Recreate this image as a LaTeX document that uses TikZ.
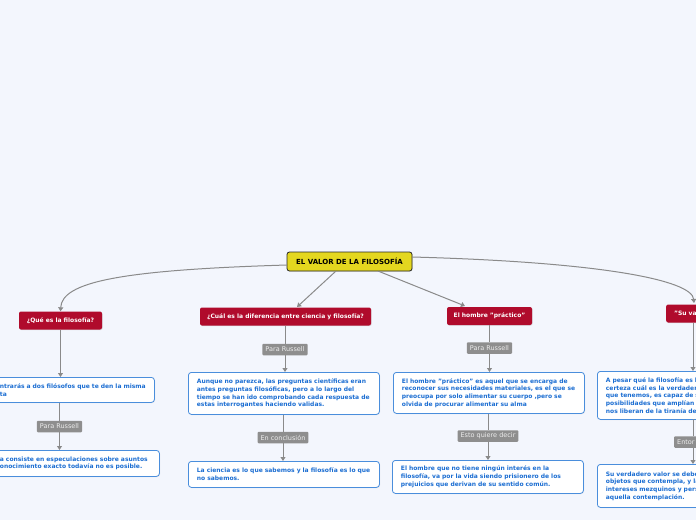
\documentclass[tikz,border=0pt]{standalone}
\usepackage{fontspec}
\setmainfont{DejaVu Sans}
\usetikzlibrary{arrows.meta,shadows}
\definecolor{bgc}{HTML}{F3F6FD}
\definecolor{redn}{HTML}{B00B2C}
\definecolor{yel}{HTML}{E4D71F}
\definecolor{bord}{HTML}{4A8EDC}
\definecolor{txtb}{HTML}{1C6ED2}
\definecolor{grayl}{HTML}{8E8E8E}
\definecolor{conn}{HTML}{8A8A8A}
\tikzset{
  mainbox/.style={draw=black!85, line width=0.8pt, fill=yel, rounded corners=2.5pt, font=\fontsize{7}{8}\selectfont\bfseries, minimum width=125pt, minimum height=19pt, inner sep=0pt, drop shadow={shadow xshift=0.6pt, shadow yshift=-0.6pt, opacity=0.25}},
  redbox/.style={fill=redn, text=white, rounded corners=2pt, font=\fontsize{6}{7}\selectfont\bfseries, minimum height=18pt, inner sep=0pt, drop shadow={shadow xshift=0.6pt, shadow yshift=-0.6pt, opacity=0.25}},
  txtbox/.style={draw=bord, line width=0.8pt, fill=white, text=txtb, rounded corners=3pt, font=\fontsize{6}{7.7}\selectfont\bfseries, align=left, inner xsep=8.5pt, inner ysep=0pt, drop shadow={shadow xshift=0.6pt, shadow yshift=-0.6pt, opacity=0.2}},
  glabel/.style={fill=grayl, text=white!93!black, rounded corners=1pt, font=\fontsize{6.5}{7}\selectfont, minimum height=11.5pt, inner xsep=3pt, inner ysep=0pt},
  conline/.style={draw=conn, line width=1pt},
  conarrow/.style={conline, -{Triangle[width=5pt,length=4pt]}}
}
\begin{document}
\begin{tikzpicture}[x=1pt,y=-1pt]
\useasboundingbox (0,0) rectangle (696,520);
\fill[bgc] (0,0) rectangle (696,520);
\clip (0,0) rectangle (696,520);

% main
\node[mainbox] (main) at (349.5,261.5) {EL VALOR DE LA FILOSOFÍA};

% red headers
\node[redbox, minimum width=83pt] (r1) at (60.5,320.5) {¿Qué es la filosofía?};
\node[redbox, minimum width=171pt] (r2) at (285.5,316.5) {¿Cuál es la diferencia entre ciencia y filosofía?};
\node[redbox, minimum width=85pt] (r3) at (489.5,316) {El hombre "práctico"};
\node[redbox, anchor=west, text width=50pt, align=left, inner xsep=8pt] (r4) at (666,313.5) {"Su va};

% connectors from main
\coordinate (m1) at (287,265);
\coordinate (m4) at (412,257);
\coordinate (m2) at (336,271);
\coordinate (m3) at (378,271);
\coordinate (t2) at (297,307);
\coordinate (t3) at (465,306);
\coordinate (x4) at (694,303);
\draw[conarrow] (m1) .. controls (120,270) and (62,282) .. (r1.north);
\draw[conarrow] (m2) -- (t2);
\draw[conarrow] (m3) -- (t3);
\draw[conarrow] (m4) .. controls (600,262) and (692,280) .. (x4);

% branch 1
\node[txtbox, text width=146pt, minimum height=25pt, anchor=north west] (b1a) at (-9,377) {ntrarás a dos filósofos que te den la misma\\ta};
\node[glabel] (l1) at (59.5,426.5) {Para Russell};
\node[txtbox, text width=151pt, minimum height=26pt, anchor=north west] (b1b) at (-9,450) {a consiste en especulaciones sobre asuntos\\onocimiento exacto todavía no es posible.};
\draw[conarrow] (r1.south) -- (b1a.north -| r1.south);
\draw[conline] (b1a.south -| l1.north) -- (l1.north);
\draw[conarrow] (l1.south) -- (b1b.north -| l1.south);

% branch 2
\node[glabel] (l2) at (285,349.5) {Para Russell};
\node[txtbox, text width=174pt, minimum height=42pt, anchor=north west] (b2a) at (188,372) {Aunque no parezca, las preguntas científicas eran\\antes preguntas filosóficas, pero a lo largo del\\tiempo se han ido comprobando cada respuesta de\\estas interrogantes haciendo validas.};
\node[glabel] (l3) at (283,437.5) {En conclusión};
\node[txtbox, text width=174pt, minimum height=26pt, anchor=north west] (b2b) at (188,461) {La ciencia es lo que sabemos y la filosofía es lo que\\no sabemos.};
\draw[conline] (r2.south -| l2.north) -- (l2.north);
\draw[conarrow] (l2.south) -- (b2a.north -| l2.south);
\draw[conline] (b2a.south -| l3.north) -- (l3.north);
\draw[conarrow] (l3.south) -- (b2b.north -| l3.south);

% branch 3
\node[glabel] (l4) at (489.5,348) {Para Russell};
\node[txtbox, text width=174pt, minimum height=41pt, anchor=north west] (b3a) at (393,372) {El hombre "práctico" es aquel que se encarga de\\reconocer sus necesidades materiales, es el que se\\preocupa por solo alimentar su cuerpo ,pero se\\olvida de procurar alimentar su alma};
\node[glabel] (l5) at (488,436) {Esto quiere decir};
\node[txtbox, text width=174pt, minimum height=33pt, anchor=north west] (b3b) at (392,460) {El hombre que no tiene ningún interés en la\\filosofía, va por la vida siendo prisionero de los\\prejuicios que derivan de su sentido común.};
\draw[conline] (r3.south -| l4.north) -- (l4.north);
\draw[conarrow] (l4.south) -- (b3a.north -| l4.south);
\draw[conline] (b3a.south -| l5.north) -- (l5.north);
\draw[conarrow] (l5.south) -- (b3b.north -| l5.south);

% branch 4
\node[txtbox, text width=180pt, minimum height=48pt, anchor=north west] (b4a) at (597,371) {A pesar qué la filosofía es l\\certeza cuál es la verdader\\que tenemos, es capaz de s\\posibilidades que amplían\\nos liberan de la tiranía de};
\node[glabel, anchor=west, text width=40pt, align=left] (l6) at (674,442) {Entor};
\node[txtbox, text width=180pt, minimum height=43pt, anchor=north west] (b4b) at (597,464) {Su verdadero valor se debe\\objetos que contempla, y la\\intereses mezquinos y pers\\aquella contemplación.};
\coordinate (c4a) at (693,323);
\coordinate (c4b) at (693,371);
\coordinate (c4c) at (693,419);
\coordinate (c4d) at (693,436);
\coordinate (c4e) at (693,448);
\coordinate (c4f) at (693,464);
\draw[conarrow] (c4a) -- (c4b);
\draw[conline] (c4c) -- (c4d);
\draw[conarrow] (c4e) -- (c4f);
\end{tikzpicture}
\end{document}
